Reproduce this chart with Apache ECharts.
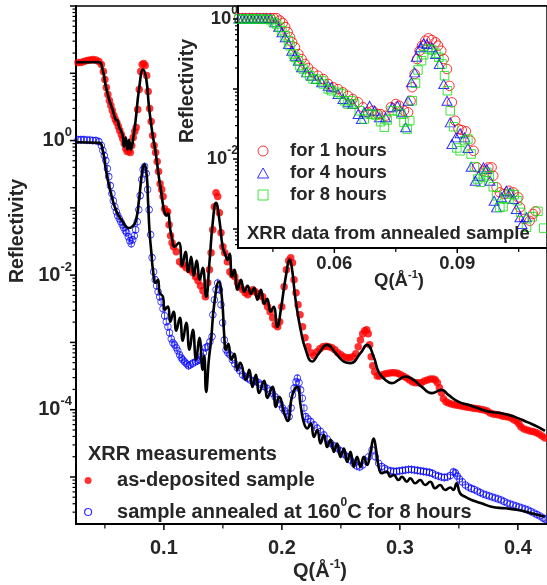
<!DOCTYPE html>
<html>
<head>
<meta charset="utf-8">
<title>XRR reflectivity</title>
<script src="https://cdn.jsdelivr.net/npm/echarts@6.0.0/dist/echarts.min.js"></script>
<style>
  html, body { margin: 0; padding: 0; background: #fff; }
  #chart { width: 547px; height: 585px; }
</style>
</head>
<body>
<div id="chart"></div>
<script>
// main panel: [Q (1/Å), reflectivity]
const asDeposited = [
  [0.0272,14.5],[0.0297,14.5],[0.0322,15.0],[0.0348,15.5],[0.0373,15.8],[0.0398,16.0],[0.0424,15.8],[0.0449,15.0],
  [0.0470,13.5],[0.0487,10.6],[0.0500,8.09],[0.0512,6.15],[0.0525,4.84],[0.0538,3.94],[0.0550,3.32],[0.0563,2.79],
  [0.0576,2.36],[0.0588,2.05],[0.0601,1.85],[0.0614,1.62],[0.0626,1.41],[0.0639,1.23],[0.0651,1.07],[0.0664,0.902],
  [0.0677,0.760],[0.0689,0.686],[0.0702,0.710],[0.0715,0.663],[0.0727,0.843],[0.0740,1.11],[0.0753,1.36],[0.0765,1.56],
  [0.0778,2.89],[0.0791,5.74],[0.0803,10.6],[0.0816,13.5],[0.0829,14.0],[0.0841,13.1],[0.0854,9.28],[0.0867,5.36],
  [0.0879,2.99],[0.0892,1.92],[0.0905,1.19],[0.0917,0.843],[0.0930,0.663],[0.0943,0.487],[0.0955,0.346],[0.0968,0.229],
  [0.0981,0.187],[0.0993,0.147],[0.1006,0.0973],[0.1019,0.0877],[0.1031,0.0877],[0.1044,0.0562],[0.1057,0.0386],[0.1069,0.0303],
  [0.1082,0.0265],[0.1105,0.0223],[0.1133,0.0158],[0.1160,0.0143],[0.1189,0.0129],[0.1217,0.0120],[0.1245,0.0109],[0.1268,0.00946],
  [0.1289,0.00826],[0.1310,0.00695],[0.1331,0.00586],[0.1352,0.00477],[0.1371,0.00771],[0.1386,0.0120],[0.1400,0.0215],[0.1414,0.0474],
  [0.1428,0.104],[0.1442,0.168],[0.1456,0.147],[0.1470,0.0849],[0.1484,0.0428],[0.1500,0.0265],[0.1516,0.0215],[0.1538,0.0158],
  [0.1559,0.0112],[0.1580,0.0101],[0.1601,0.00946],[0.1624,0.00771],[0.1647,0.00671],[0.1668,0.00606],[0.1689,0.00547],[0.1711,0.00511],
  [0.1732,0.00566],[0.1753,0.00606],[0.1774,0.00566],[0.1795,0.00529],[0.1816,0.00493],[0.1837,0.00477],[0.1858,0.00402],[0.1879,0.00339],
  [0.1900,0.00285],[0.1922,0.00232],[0.1943,0.00183],[0.1964,0.00171],[0.1981,0.00203],[0.1999,0.00339],[0.2019,0.00671],[0.2038,0.0120],
  [0.2057,0.0164],[0.2075,0.0182],[0.2090,0.0153],[0.2103,0.00855],[0.2120,0.00547],[0.2137,0.00363],[0.2154,0.00258],[0.2175,0.00171],
  [0.2196,0.00117],[0.2221,8.60e-4],[0.2246,7.00e-4],[0.2272,6.32e-4],[0.2297,7.25e-4],[0.2322,8.03e-4],[0.2348,8.60e-4],[0.2373,8.75e-4],
  [0.2398,8.60e-4],[0.2424,8.31e-4],[0.2449,7.76e-4],[0.2474,7.00e-4],[0.2500,6.54e-4],[0.2525,6.11e-4],[0.2550,5.90e-4],[0.2575,5.90e-4],
  [0.2601,6.11e-4],[0.2626,6.76e-4],[0.2647,8.60e-4],[0.2666,0.00109],[0.2685,0.00134],[0.2702,0.00149],[0.2719,0.00154],[0.2732,0.00134],
  [0.2744,9.20e-4],[0.2757,6.11e-4],[0.2770,4.49e-4],[0.2786,3.65e-4],[0.2808,3.18e-4],[0.2829,3.18e-4],[0.2854,3.30e-4],[0.2879,3.41e-4],
  [0.2905,3.47e-4],[0.2930,3.53e-4],[0.2955,3.53e-4],[0.2981,3.47e-4],[0.3006,3.30e-4],[0.3031,3.13e-4],[0.3057,2.97e-4],[0.3082,2.77e-4],
  [0.3107,2.59e-4],[0.3132,2.51e-4],[0.3158,2.51e-4],[0.3183,2.51e-4],[0.3208,2.68e-4],[0.3234,2.77e-4],[0.3259,2.87e-4],[0.3284,2.87e-4],
  [0.3301,2.77e-4],[0.3318,2.51e-4],[0.3335,2.11e-4],[0.3352,1.78e-4],[0.3369,1.45e-4],[0.3390,1.31e-4],[0.3411,1.26e-4],[0.3436,1.22e-4],
  [0.3462,1.18e-4],[0.3487,1.16e-4],[0.3512,1.14e-4],[0.3538,1.12e-4],[0.3563,1.10e-4],[0.3588,1.08e-4],[0.3614,1.06e-4],[0.3639,1.04e-4],
  [0.3664,1.03e-4],[0.3689,1.01e-4],[0.3715,9.93e-5],[0.3740,9.59e-5],[0.3765,8.95e-5],[0.3791,8.65e-5],[0.3816,8.51e-5],[0.3841,8.37e-5],
  [0.3867,8.09e-5],[0.3892,7.95e-5],[0.3917,7.82e-5],[0.3943,7.55e-5],[0.3968,7.05e-5],[0.3993,6.70e-5],[0.4010,6.15e-5],[0.4027,5.55e-5],
  [0.4052,5.18e-5],[0.4078,5.00e-5],[0.4103,4.84e-5],[0.4128,4.75e-5],[0.4154,4.59e-5],[0.4179,4.36e-5],[0.4204,4.07e-5],[0.4230,3.80e-5]
];

const annealed = [
  [0.0272,1.03],[0.0297,1.03],[0.0322,1.03],[0.0348,1.02],[0.0373,1.02],[0.0398,1.00],[0.0424,1.00],[0.0449,0.966],
  [0.0470,0.843],[0.0483,0.710],[0.0495,0.598],[0.0508,0.504],[0.0521,0.383],[0.0533,0.291],[0.0546,0.214],[0.0559,0.163],
  [0.0571,0.128],[0.0584,0.104],[0.0597,0.0877],[0.0609,0.0766],[0.0622,0.0691],[0.0635,0.0623],[0.0647,0.0562],[0.0660,0.0508],
  [0.0673,0.0458],[0.0685,0.0428],[0.0698,0.0373],[0.0711,0.0325],[0.0723,0.0293],[0.0736,0.0336],[0.0749,0.0386],[0.0761,0.0474],
  [0.0774,0.0623],[0.0787,0.0940],[0.0799,0.152],[0.0812,0.263],[0.0824,0.370],[0.0837,0.410],[0.0850,0.323],[0.0862,0.187],
  [0.0875,0.0940],[0.0888,0.0399],[0.0900,0.0182],[0.0913,0.0112],[0.0926,0.00855],[0.0938,0.00695],[0.0951,0.00566],[0.0964,0.00477],
  [0.0976,0.00402],[0.0992,0.00316],[0.1006,0.00249],[0.1020,0.00203],[0.1034,0.00171],[0.1048,0.00139],[0.1062,0.00113],[0.1076,9.86e-4],
  [0.1090,9.20e-4],[0.1105,8.31e-4],[0.1118,7.50e-4],[0.1133,6.54e-4],[0.1147,5.90e-4],[0.1160,5.51e-4],[0.1175,5.14e-4],[0.1192,4.81e-4],
  [0.1208,4.49e-4],[0.1225,4.65e-4],[0.1245,4.92e-4],[0.1268,5.14e-4],[0.1284,5.32e-4],[0.1301,5.51e-4],[0.1318,6.11e-4],[0.1335,7.00e-4],
  [0.1352,8.31e-4],[0.1371,8.69e-4],[0.1390,0.00102],[0.1408,0.00122],[0.1415,0.00258],[0.1428,0.00431],[0.1442,0.00606],[0.1456,0.00762],
  [0.1470,0.00606],[0.1484,0.00363],[0.1498,0.00196],[0.1512,0.00109],[0.1527,7.76e-4],[0.1542,7.00e-4],[0.1559,6.54e-4],[0.1580,5.51e-4],
  [0.1601,4.81e-4],[0.1622,4.19e-4],[0.1643,3.78e-4],[0.1667,3.30e-4],[0.1689,3.08e-4],[0.1709,2.94e-4],[0.1732,2.77e-4],[0.1757,2.68e-4],
  [0.1780,2.62e-4],[0.1803,2.51e-4],[0.1824,2.34e-4],[0.1850,2.21e-4],[0.1875,2.07e-4],[0.1900,1.91e-4],[0.1920,1.76e-4],[0.1943,1.55e-4],
  [0.1962,1.40e-4],[0.1985,1.22e-4],[0.2006,1.06e-4],[0.2023,9.59e-5],[0.2044,8.65e-5],[0.2061,7.89e-5],[0.2078,1.06e-4],[0.2090,1.66e-4],
  [0.2103,2.09e-4],[0.2120,2.59e-4],[0.2131,2.94e-4],[0.2145,2.51e-4],[0.2159,1.97e-4],[0.2173,1.48e-4],[0.2187,1.06e-4],[0.2202,7.89e-5],
  [0.2221,7.29e-5],[0.2244,6.65e-5],[0.2272,5.94e-5],[0.2300,5.31e-5],[0.2328,4.75e-5],[0.2356,4.22e-5],[0.2384,3.67e-5],[0.2413,3.17e-5],
  [0.2441,2.89e-5],[0.2468,2.70e-5],[0.2497,2.44e-5],[0.2525,2.20e-5],[0.2553,2.00e-5],[0.2581,1.79e-5],[0.2609,1.60e-5],[0.2635,1.46e-5],
  [0.2660,1.41e-5],[0.2685,1.51e-5],[0.2711,1.73e-5],[0.2736,2.00e-5],[0.2764,2.52e-5],[0.2792,2.00e-5],[0.2820,1.60e-5],[0.2846,1.43e-5],
  [0.2871,1.34e-5],[0.2896,1.27e-5],[0.2922,1.23e-5],[0.2947,1.21e-5],[0.2972,1.21e-5],[0.2997,1.23e-5],[0.3023,1.25e-5],[0.3048,1.27e-5],
  [0.3073,1.29e-5],[0.3099,1.29e-5],[0.3124,1.27e-5],[0.3149,1.25e-5],[0.3175,1.23e-5],[0.3200,1.21e-5],[0.3225,1.19e-5],[0.3251,1.17e-5],
  [0.3276,1.13e-5],[0.3301,1.07e-5],[0.3327,1.03e-5],[0.3352,1.00e-5],[0.3377,9.84e-6],[0.3403,1.00e-5],[0.3428,1.05e-5],[0.3453,1.19e-5],
  [0.3470,1.15e-5],[0.3487,1.03e-5],[0.3504,9.33e-6],[0.3529,8.43e-6],[0.3555,7.60e-6],[0.3580,7.10e-6],[0.3605,6.75e-6],[0.3630,6.52e-6],
  [0.3656,6.19e-6],[0.3681,5.87e-6],[0.3706,5.58e-6],[0.3732,5.40e-6],[0.3757,5.21e-6],[0.3782,5.04e-6],[0.3808,4.87e-6],[0.3833,4.71e-6],
  [0.3858,4.55e-6],[0.3883,4.32e-6],[0.3909,4.10e-6],[0.3934,3.96e-6],[0.3959,3.83e-6],[0.3985,3.70e-6],[0.4010,3.58e-6],[0.4035,3.46e-6],
  [0.4061,3.34e-6],[0.4086,3.23e-6],[0.4111,3.07e-6],[0.4137,2.91e-6],[0.4162,2.77e-6],[0.4187,2.63e-6],[0.4213,2.45e-6],[0.4230,2.37e-6]
];

// fitted curves
const asDepositedFit = [
  [0.0255,14.6],[0.0449,14.6],[0.0480,11.4],[0.0508,6.43],[0.0536,4.07],[0.0565,2.89],[0.0592,2.05],[0.0607,1.99],
  [0.0620,1.62],[0.0649,1.23],[0.0662,0.814],[0.0677,1.11],[0.0691,0.735],[0.0705,1.03],[0.0719,0.735],[0.0738,1.03],
  [0.0761,2.05],[0.0789,5.74],[0.0824,11.4],[0.0851,8.09],[0.0873,3.24],[0.0902,1.30],[0.0930,0.663],[0.0958,0.281],
  [0.0978,0.168],[0.0992,0.112],[0.1006,0.0849],[0.1019,0.0766],[0.1034,0.0820],[0.1054,0.0474],[0.1068,0.0360],[0.1090,0.0265],
  [0.1127,0.0303],[0.1155,0.0138],[0.1183,0.0223],[0.1206,0.0112],[0.1231,0.0188],[0.1253,0.00980],[0.1278,0.0164],[0.1304,0.00855],
  [0.1329,0.0129],[0.1358,0.00477],[0.1386,0.0153],[0.1414,0.0602],[0.1442,0.119],[0.1470,0.0667],[0.1498,0.0265],[0.1521,0.0201],
  [0.1540,0.0169],[0.1557,0.0208],[0.1577,0.00946],[0.1597,0.0120],[0.1624,0.00606],[0.1653,0.00855],[0.1681,0.00566],[0.1709,0.00695],
  [0.1738,0.00529],[0.1765,0.00649],[0.1793,0.00431],[0.1822,0.00606],[0.1850,0.00375],[0.1875,0.00446],[0.1905,0.00285],[0.1930,0.00339],
  [0.1962,0.00171],[0.1991,0.00305],[0.2033,0.00946],[0.2067,0.0169],[0.2089,0.0112],[0.2103,0.00671],[0.2122,0.00363],[0.2159,0.00154],
  [0.2202,7.76e-4],[0.2257,5.20e-4],[0.2314,6.93e-4],[0.2384,9.20e-4],[0.2455,6.93e-4],[0.2525,5.20e-4],[0.2581,4.92e-4],[0.2666,6.93e-4],
  [0.2722,9.20e-4],[0.2778,6.11e-4],[0.2820,3.65e-4],[0.2877,2.77e-4],[0.2932,2.48e-4],[0.2989,2.77e-4],[0.3046,3.11e-4],[0.3116,2.77e-4],
  [0.3186,2.18e-4],[0.3270,1.76e-4],[0.3354,1.97e-4],[0.3411,1.66e-4],[0.3495,1.32e-4],[0.3580,1.18e-4],[0.3664,1.05e-4],[0.3748,9.37e-5],
  [0.3861,8.87e-5],[0.3974,7.82e-5],[0.4086,6.47e-5],[0.4170,5.55e-5],[0.4230,4.84e-5]
];

const annealedFit = [
  [0.0255,0.943],[0.0451,0.924],[0.0480,0.735],[0.0508,0.370],[0.0536,0.209],[0.0565,0.132],[0.0592,0.0940],[0.0620,0.0748],
  [0.0649,0.0630],[0.0677,0.0531],[0.0705,0.0502],[0.0733,0.0531],[0.0761,0.0630],[0.0789,0.132],[0.0818,0.370],[0.0833,0.440],
  [0.0856,0.281],[0.0865,0.132],[0.0879,0.0428],[0.0894,0.0215],[0.0907,0.0120],[0.0930,0.00771],[0.0949,0.00855],[0.0964,0.00547],
  [0.0992,0.00477],[0.1006,0.00305],[0.1034,0.00342],[0.1054,0.00203],[0.1082,0.00285],[0.1105,0.00149],[0.1135,0.00232],[0.1160,0.00106],
  [0.1189,0.00196],[0.1217,7.76e-4],[0.1245,0.00154],[0.1273,5.51e-4],[0.1301,0.00117],[0.1329,3.91e-4],[0.1342,6.32e-4],[0.1358,1.84e-4],
  [0.1381,5.51e-4],[0.1400,0.00109],[0.1428,0.00388],[0.1466,0.00798],[0.1493,0.00431],[0.1512,0.00121],[0.1525,7.76e-4],[0.1546,9.53e-4],
  [0.1571,5.51e-4],[0.1597,6.76e-4],[0.1622,3.91e-4],[0.1647,4.97e-4],[0.1695,2.77e-4],[0.1723,3.91e-4],[0.1751,2.18e-4],[0.1780,3.30e-4],
  [0.1808,1.78e-4],[0.1850,2.68e-4],[0.1878,1.50e-4],[0.1920,2.18e-4],[0.1949,1.10e-4],[0.1976,1.55e-4],[0.2019,8.95e-5],[0.2048,6.81e-5],
  [0.2089,1.66e-4],[0.2131,2.18e-4],[0.2159,1.14e-4],[0.2187,6.37e-5],[0.2215,5.27e-5],[0.2244,6.25e-5],[0.2272,3.94e-5],[0.2300,5.00e-5],
  [0.2328,3.15e-5],[0.2356,4.22e-5],[0.2384,2.79e-5],[0.2413,3.56e-5],[0.2441,2.36e-5],[0.2468,3.15e-5],[0.2497,1.99e-5],[0.2525,2.65e-5],
  [0.2553,1.67e-5],[0.2581,2.36e-5],[0.2609,1.41e-5],[0.2637,1.99e-5],[0.2666,1.41e-5],[0.2694,1.99e-5],[0.2722,1.51e-5],[0.2750,2.28e-5],
  [0.2778,3.74e-5],[0.2797,2.65e-5],[0.2820,1.42e-5],[0.2848,1.14e-5],[0.2890,1.20e-5],[0.2919,1.01e-5],[0.2947,1.07e-5],[0.2989,9.02e-6],
  [0.3017,1.01e-5],[0.3059,8.51e-6],[0.3088,9.57e-6],[0.3130,8.05e-6],[0.3172,9.02e-6],[0.3214,7.60e-6],[0.3257,8.51e-6],[0.3299,6.79e-6],
  [0.3341,7.60e-6],[0.3383,6.41e-6],[0.3428,6.98e-6],[0.3453,6.41e-6],[0.3481,8.05e-6],[0.3510,5.72e-6],[0.3552,5.09e-6],[0.3608,4.55e-6],
  [0.3692,4.06e-6],[0.3776,3.61e-6],[0.3889,3.42e-6],[0.4002,3.23e-6],[0.4114,2.88e-6],[0.4230,2.56e-6]
];

// inset: annealed sample after 1, 4 and 8 hours
const hours1 = [
  [0.0367,1.03],[0.0376,1.03],[0.0384,1.03],[0.0393,1.03],[0.0401,1.03],[0.0410,1.03],[0.0418,1.03],[0.0427,1.03],
  [0.0435,1.03],[0.0444,1.03],[0.0452,1.03],[0.0459,1.03],[0.0467,0.952],[0.0474,0.877],[0.0480,0.769],[0.0486,0.652],
  [0.0492,0.548],[0.0497,0.465],[0.0504,0.394],[0.0512,0.316],[0.0520,0.268],[0.0528,0.228],[0.0536,0.200],[0.0548,0.173],
  [0.0560,0.155],[0.0573,0.139],[0.0585,0.118],[0.0597,0.106],[0.0609,0.100],[0.0621,0.0897],[0.0633,0.0802],[0.0645,0.0720],
  [0.0658,0.0646],[0.0670,0.0548],[0.0682,0.0465],[0.0694,0.0490],[0.0706,0.0439],[0.0713,0.0439],[0.0725,0.0416],[0.0738,0.0548],
  [0.0750,0.0611],[0.0758,0.0577],[0.0770,0.0490],[0.0780,0.0465],[0.0786,0.0681],[0.0790,0.106],[0.0796,0.164],[0.0802,0.268],
  [0.0808,0.352],[0.0814,0.416],[0.0822,0.490],[0.0830,0.530],[0.0838,0.501],[0.0847,0.465],[0.0853,0.416],[0.0861,0.352],
  [0.0867,0.268],[0.0875,0.193],[0.0881,0.111],[0.0887,0.0646],[0.0895,0.0353],[0.0903,0.0268],[0.0911,0.0260],[0.0921,0.0249],
  [0.0932,0.0183],[0.0940,0.0131],[0.0948,0.00760],[0.0964,0.00681],[0.0976,0.00760],[0.0984,0.00760],[0.0988,0.00577],[0.0996,0.00394],
  [0.1004,0.00334],[0.1015,0.00316],[0.1026,0.00352],[0.1037,0.00334],[0.1049,0.00284],[0.1053,0.00204],[0.1063,0.00139],[0.1077,0.00131],
  [0.1085,0.00164],[0.1091,0.00179]
];

const hours4 = [
  [0.0367,1.02],[0.0376,1.02],[0.0384,1.02],[0.0393,1.02],[0.0401,1.02],[0.0410,1.02],[0.0418,1.02],[0.0427,1.02],
  [0.0435,1.02],[0.0444,1.02],[0.0455,0.897],[0.0464,0.776],[0.0472,0.646],[0.0480,0.548],[0.0488,0.440],[0.0496,0.352],
  [0.0504,0.299],[0.0512,0.254],[0.0520,0.204],[0.0532,0.173],[0.0544,0.155],[0.0556,0.139],[0.0569,0.125],[0.0585,0.111],
  [0.0593,0.106],[0.0609,0.0849],[0.0621,0.0720],[0.0633,0.0646],[0.0645,0.0611],[0.0658,0.0439],[0.0666,0.0373],[0.0673,0.0465],
  [0.0686,0.0577],[0.0698,0.0490],[0.0710,0.0394],[0.0725,0.0394],[0.0741,0.0548],[0.0754,0.0577],[0.0766,0.0465],[0.0774,0.0284],
  [0.0780,0.0681],[0.0788,0.125],[0.0796,0.173],[0.0800,0.289],[0.0810,0.394],[0.0818,0.450],[0.0826,0.440],[0.0838,0.394],
  [0.0847,0.316],[0.0856,0.228],[0.0867,0.118],[0.0875,0.0681],[0.0883,0.0334],[0.0887,0.0164],[0.0897,0.0204],[0.0907,0.0233],
  [0.0918,0.0204],[0.0926,0.0144],[0.0934,0.00776],[0.0944,0.00490],[0.0952,0.00577],[0.0964,0.00760],[0.0972,0.00720],[0.0980,0.00490],
  [0.0990,0.00254],[0.0996,0.00204],[0.1008,0.00284],[0.1020,0.00352],[0.1029,0.00334],[0.1037,0.00268],[0.1044,0.00193],[0.1053,0.00147],
  [0.1058,0.00118],[0.1069,0.00147]
];

const hours8 = [
  [0.0367,1.00],[0.0376,1.00],[0.0384,1.00],[0.0393,1.00],[0.0401,1.00],[0.0410,1.00],[0.0418,1.00],[0.0427,0.99],
  [0.0435,0.99],[0.0444,0.98],[0.0451,0.897],[0.0459,0.848],[0.0467,0.761],[0.0472,0.681],[0.0480,0.577],[0.0488,0.490],
  [0.0492,0.416],[0.0500,0.316],[0.0504,0.284],[0.0512,0.254],[0.0516,0.215],[0.0524,0.193],[0.0532,0.173],[0.0540,0.155],
  [0.0548,0.139],[0.0556,0.139],[0.0569,0.131],[0.0573,0.118],[0.0585,0.100],[0.0593,0.0946],[0.0609,0.0897],[0.0617,0.0849],
  [0.0625,0.0681],[0.0633,0.0611],[0.0641,0.0681],[0.0649,0.0611],[0.0661,0.0490],[0.0673,0.0373],[0.0682,0.0439],[0.0690,0.0439],
  [0.0701,0.0425],[0.0713,0.0341],[0.0722,0.0284],[0.0729,0.0361],[0.0741,0.0493],[0.0754,0.0485],[0.0762,0.0439],[0.0770,0.0334],
  [0.0778,0.0268],[0.0784,0.0353],[0.0790,0.0681],[0.0798,0.121],[0.0804,0.187],[0.0813,0.254],[0.0818,0.309],[0.0829,0.373],
  [0.0838,0.361],[0.0848,0.324],[0.0855,0.284],[0.0863,0.228],[0.0869,0.155],[0.0876,0.0946],[0.0883,0.0490],[0.0891,0.0289],
  [0.0899,0.0144],[0.0907,0.0131],[0.0918,0.0183],[0.0926,0.0193],[0.0934,0.0118],[0.0942,0.00776],[0.0950,0.00518],[0.0956,0.00465],
  [0.0964,0.00548],[0.0972,0.00646],[0.0978,0.00577],[0.0988,0.00402],[0.0996,0.00299],[0.1004,0.00204],[0.1012,0.00208],[0.1020,0.00268],
  [0.1029,0.00316],[0.1039,0.00309],[0.1047,0.00254],[0.1055,0.00173],[0.1069,0.00106],[0.1083,0.00150],[0.1097,0.00179],[0.1111,0.00103]
];

// tick values and labels
const mainXTicks = [0.1, 0.2, 0.3, 0.4];
const mainXLabels = ['0.1', '0.2', '0.3', '0.4'];
const mainXMinor = [0.05, 0.15, 0.25, 0.35];
const mainYLabels = [[1, '0'], [1e-2, '-2'], [1e-4, '-4']];
const insetXTicks = [0.06, 0.09];
const insetXLabels = ['0.06', '0.09'];
const insetXMinor = [0.045, 0.075, 0.105];
const insetYLabels = [[1, '0'], [1e-2, '-2']];

const FONT = '"Liberation Sans", Arial, sans-serif';
const INK = '#262626';
const depName = 'as-deposited sample';
const annName = 'sample annealed at 160^0C for 8 hours';

const CIRCLE = 'path://M10,5 A5,5 0 1,1 0,5 A5,5 0 1,1 10,5 Z';
const ERR_CIRCLE = 'path://M5,-1.5 L5,11.5 M10,5 A5,5 0 1,1 0,5 A5,5 0 1,1 10,5 Z';
const TRIANGLE = 'path://M5,0 L10,9 L0,9 Z';
const SQUARE = 'path://M0,0 L10,0 L10,10 L0,10 Z';

const mainRange = { xMin: 0.0255, xMax: 0.4247, yMin: 2e-6, yMax: 100 };
const insetRange = { xMin: 0.03648, xMax: 0.11191, yMin: 5.36e-4, yMax: 1.534 };

const measureCtx = document.createElement('canvas').getContext('2d');
function textWidth(t, size) {
  measureCtx.font = 'bold ' + size + 'px ' + FONT;
  return measureCtx.measureText(t).width;
}

function logTicks(min, max) {
  const major = [], minor = [];
  for (let e = Math.floor(Math.log10(min)); e <= Math.ceil(Math.log10(max)); e++) {
    const d = Math.pow(10, e);
    if (d >= min * 0.999 && d <= max * 1.001) major.push(d);
    for (let m = 2; m < 10; m++) {
      const v = m * d;
      if (v > min * 1.001 && v < max * 0.999) minor.push(v);
    }
  }
  return { major, minor };
}

// ticks and tick labels, placed through the axes' own scales
function axisDecor(cfg) {
  const yt = logTicks(cfg.yMin, cfg.yMax);
  return function (params, api) {
    const kids = [];
    const line = (x1, y1, x2, y2, w) => kids.push({
      type: 'line', shape: { x1, y1, x2, y2 }, style: { stroke: '#000', lineWidth: w }
    });
    const text = (x, y, t, size, align) => kids.push({
      type: 'text', x, y,
      style: { text: t, fontSize: size, fontWeight: 'bold', fontFamily: FONT, fill: INK, align, verticalAlign: 'middle' }
    });
    yt.major.forEach(v => { const p = api.coord([cfg.xMin, v]); line(p[0] - cfg.major, p[1], p[0], p[1], 1.5); });
    yt.minor.forEach(v => { const p = api.coord([cfg.xMin, v]); line(p[0] - cfg.minor, p[1], p[0], p[1], 1.2); });
    cfg.xTicks.forEach((v, i) => {
      const p = api.coord([v, cfg.yMin]);
      line(p[0], p[1], p[0], p[1] + cfg.major, 1.5);
      text(p[0], p[1] + cfg.xLabelGap, cfg.xLabels[i], cfg.font, 'center');
    });
    cfg.xMinor.forEach(v => { const p = api.coord([v, cfg.yMin]); line(p[0], p[1], p[0], p[1] + cfg.minor + 1, 1.2); });
    cfg.yLabels.forEach(([v, ex]) => {
      const p = api.coord([cfg.xMin, v]);
      const right = p[0] - cfg.yLabelGap;
      text(right - textWidth(ex, cfg.supFont), p[1], '10', cfg.font, 'right');
      text(right, p[1] - cfg.supRise, ex, cfg.supFont, 'right');
    });
    return { type: 'group', children: kids };
  };
}

function richQ(size, sup) {
  return {
    text: '{t|Q(Å}{s|-1}{t|)}',
    rich: {
      t: { fontSize: size, fontWeight: 'bold', fontFamily: FONT, fill: INK, lineHeight: size + 4, verticalAlign: 'middle' },
      s: { fontSize: sup, fontWeight: 'bold', fontFamily: FONT, fill: INK, lineHeight: 10, verticalAlign: 'top' }
    },
    align: 'center', verticalAlign: 'middle'
  };
}

function plainText(t, size, align) {
  return { text: t, fontSize: size, fontWeight: 'bold', fontFamily: FONT, fill: INK, align, verticalAlign: 'middle' };
}

const hiddenAxis = {
  axisTick: { show: false }, axisLabel: { show: false }, splitLine: { show: false },
  axisLine: { show: true, onZero: false, lineStyle: { color: '#000', width: 2 } }
};

const chart = echarts.init(document.getElementById('chart'));
chart.setOption({
  animation: false,
  backgroundColor: '#fff',
  grid: [
    { left: 76, top: 6, width: 473, height: 518, show: true, borderColor: '#000', borderWidth: 1.5 },
    { left: 238, top: 6, width: 311, height: 242, show: true, backgroundColor: '#fff', borderColor: '#000', borderWidth: 1.5 }
  ],
  xAxis: [
    Object.assign({ type: 'value', gridIndex: 0, min: mainRange.xMin, max: mainRange.xMax }, hiddenAxis),
    Object.assign({ type: 'value', gridIndex: 1, min: insetRange.xMin, max: insetRange.xMax }, hiddenAxis)
  ],
  yAxis: [
    Object.assign({ type: 'log', logBase: 10, gridIndex: 0, min: mainRange.yMin, max: mainRange.yMax }, hiddenAxis),
    Object.assign({ type: 'log', logBase: 10, gridIndex: 1, min: insetRange.yMin, max: insetRange.yMax }, hiddenAxis)
  ],
  legend: [
    {
      orient: 'vertical', left: 84, top: 470.5, padding: 0, itemGap: 6,
      itemWidth: 48, itemHeight: 7, selectedMode: false,
      data: [
        { name: depName, icon: 'circle', itemStyle: { color: '#ff0000' } },
        { name: annName, icon: 'circle', itemStyle: { color: 'rgba(0,0,0,0)', borderColor: '#0000ff', borderWidth: 1.2 } }
      ],
      formatter: name => name === annName
        ? '{t|sample annealed at 160}{s|0}{t|C for 8 hours}'
        : '{t|' + name + '}',
      textStyle: {
        color: INK, fontSize: 20, fontWeight: 'bold', fontFamily: FONT,
        rich: {
          t: { color: INK, fontSize: 20, fontWeight: 'bold', fontFamily: FONT, lineHeight: 31, verticalAlign: 'middle' },
          s: { color: INK, fontSize: 12, fontWeight: 'bold', fontFamily: FONT, lineHeight: 17, verticalAlign: 'top' }
        }
      }
    },
    {
      orient: 'vertical', left: 257, top: 140, padding: 0, itemGap: 0,
      itemWidth: 44, itemHeight: 10, selectedMode: false,
      data: [
        { name: 'for 1 hours', icon: CIRCLE, itemStyle: { color: 'rgba(0,0,0,0)', borderColor: '#ff0000', borderWidth: 1 } },
        { name: 'for 4 hours', icon: TRIANGLE, itemStyle: { color: 'rgba(0,0,0,0)', borderColor: '#0000ff', borderWidth: 1 } },
        { name: 'for 8 hours', icon: SQUARE, itemStyle: { color: 'rgba(0,0,0,0)', borderColor: '#11dd11', borderWidth: 1 } }
      ],
      textStyle: { color: INK, fontSize: 18.5, fontWeight: 'bold', fontFamily: FONT, lineHeight: 22 }
    }
  ],
  graphic: [
    { type: 'text', x: 88, y: 454, style: plainText('XRR measurements', 20, 'left') },
    { type: 'text', x: 247, y: 234, z: 10, style: plainText('XRR data from annealed sample', 18.5, 'left') },
    { type: 'text', x: 320, y: 571, style: richQ(20, 12) },
    { type: 'text', x: 399, y: 281, style: richQ(18.5, 11) },
    { type: 'text', x: 18, y: 231, rotation: Math.PI / 2, style: plainText('Reflectivity', 19.5, 'center') },
    { type: 'text', x: 187.5, y: 91, rotation: Math.PI / 2, style: plainText('Reflectivity', 19.5, 'center') }
  ],
  series: [
    {
      name: depName, type: 'scatter', xAxisIndex: 0, yAxisIndex: 0, data: asDeposited,
      symbol: 'circle', symbolSize: 7.5, itemStyle: { color: '#ff0000' }
    },
    {
      name: annName, type: 'scatter', xAxisIndex: 0, yAxisIndex: 0, data: annealed,
      symbol: ERR_CIRCLE, symbolSize: [6.5, 8.5],
      itemStyle: { color: 'rgba(0,0,0,0)', borderColor: '#0000ff', borderWidth: 1 }
    },
    {
      type: 'line', xAxisIndex: 0, yAxisIndex: 0, data: asDepositedFit, symbol: 'none', smooth: 0.5,
      lineStyle: { color: '#000', width: 2.6 }
    },
    {
      type: 'line', xAxisIndex: 0, yAxisIndex: 0, data: annealedFit, symbol: 'none', smooth: 0.5,
      lineStyle: { color: '#000', width: 2.6 }
    },
    {
      name: 'for 1 hours', type: 'scatter', xAxisIndex: 1, yAxisIndex: 1, data: hours1,
      symbol: CIRCLE, symbolSize: 9.5, itemStyle: { color: 'rgba(0,0,0,0)', borderColor: '#ff0000', borderWidth: 1 }
    },
    {
      name: 'for 4 hours', type: 'scatter', xAxisIndex: 1, yAxisIndex: 1, data: hours4,
      symbol: TRIANGLE, symbolSize: [10, 9], itemStyle: { color: 'rgba(0,0,0,0)', borderColor: '#0000ff', borderWidth: 1 }
    },
    {
      name: 'for 8 hours', type: 'scatter', xAxisIndex: 1, yAxisIndex: 1, data: hours8,
      symbol: SQUARE, symbolSize: 8.5, itemStyle: { color: 'rgba(0,0,0,0)', borderColor: '#11dd11', borderWidth: 1 }
    },
    {
      type: 'custom', xAxisIndex: 0, yAxisIndex: 0, clip: false, silent: true, z: 5,
      data: [[mainRange.xMin, mainRange.yMin]],
      renderItem: axisDecor({
        xMin: mainRange.xMin, yMin: mainRange.yMin, yMax: mainRange.yMax,
        xTicks: mainXTicks, xLabels: mainXLabels, xMinor: mainXMinor, yLabels: mainYLabels,
        major: 6, minor: 3.5, font: 20, supFont: 13, supRise: 8, xLabelGap: 24, yLabelGap: 4
      })
    },
    {
      type: 'custom', xAxisIndex: 1, yAxisIndex: 1, clip: false, silent: true, z: 5,
      data: [[insetRange.xMin, insetRange.yMin]],
      renderItem: axisDecor({
        xMin: insetRange.xMin, yMin: insetRange.yMin, yMax: insetRange.yMax,
        xTicks: insetXTicks, xLabels: insetXLabels, xMinor: insetXMinor, yLabels: insetYLabels,
        major: 5, minor: 3, font: 18.5, supFont: 12, supRise: 8, xLabelGap: 16, yLabelGap: 0
      })
    }
  ]
});
</script>
</body>
</html>
